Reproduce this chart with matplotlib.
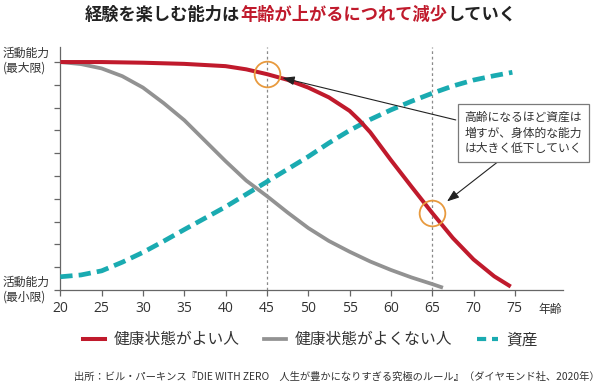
import matplotlib
matplotlib.use("Agg")
import matplotlib.pyplot as plt
import matplotlib.transforms as mtransforms
from matplotlib.lines import Line2D

plt.rcParams['font.family'] = ['Noto Sans CJK JP', 'DejaVu Sans']

# data (age -> activity level, 0 = min, 10 = max)
age_good = [20, 25, 30, 35, 40, 42.5, 45, 47.5, 50, 52.5, 55, 56.2, 57.5, 60, 62.5, 65, 67.5, 70, 72.5, 74.5]
good = [10.0, 10.0, 9.97, 9.92, 9.82, 9.68, 9.47, 9.22, 8.88, 8.45, 7.86, 7.44, 6.92, 5.7, 4.53, 3.38, 2.28, 1.34, 0.6, 0.15]

age_poor = [20, 22.5, 25, 27.5, 30, 32.5, 35, 37.5, 40, 42.5, 45, 47.5, 50, 52.5, 55, 57.5, 60, 62.5, 65, 66.3]
poor = [10.0, 9.91, 9.72, 9.38, 8.88, 8.2, 7.45, 6.55, 5.65, 4.8, 4.12, 3.4, 2.72, 2.15, 1.68, 1.25, 0.88, 0.55, 0.26, 0.1]

age_asset = [20, 22.5, 25, 27.5, 30, 32.5, 35, 37.5, 40, 42.5, 45, 47.5, 50, 52.5, 55, 57.5, 60, 62.5, 65, 67.5, 70, 72.5, 74.7]
asset = [0.58, 0.66, 0.84, 1.22, 1.65, 2.14, 2.65, 3.15, 3.65, 4.2, 4.75, 5.3, 5.85, 6.45, 7.0, 7.48, 7.9, 8.28, 8.63, 8.95, 9.21, 9.4, 9.55]

x_ticks = [20, 25, 30, 35, 40, 45, 50, 55, 60, 65, 70, 75]
marked_ages = [45, 65]

series_names = ['健康状態がよい人', '健康状態がよくない人', '資産']
title_parts = ['経験を楽しむ能力は', '年齢が上がるにつれて減少', 'していく']
note_text = '高齢になるほど資産は\n増すが、身体的な能力\nは大きく低下していく'
source_text = '出所：ビル・パーキンス『DIE WITH ZERO　人生が豊かになりすぎる究極のルール』（ダイヤモンド社、2020年）'

RED = '#C01A2C'
GRAY = '#929292'
TEAL = '#1AABB1'
ORANGE = '#E89A3E'
TXT = '#333333'

fig = plt.figure(figsize=(6, 3.84), dpi=100)
ax = fig.add_axes([0.1005, 0.2448, 0.8375, 0.6328])

ax.plot(age_good, good, color=RED, lw=2.9, solid_capstyle='butt', solid_joinstyle='round', zorder=4)
ax.plot(age_poor, poor, color=GRAY, lw=2.7, solid_capstyle='butt', solid_joinstyle='round', zorder=3)
ax.plot(age_asset, asset, color=TEAL, lw=3.4, dashes=(2.6, 1.3), dash_capstyle='butt',
        dash_joinstyle='round', zorder=3)

for a in marked_ages:
    ax.axvline(a, color='#8a8a8a', lw=0.9, ls=(0, (2.2, 2.2)), zorder=1)

# orange circles where the red line crosses the marked ages
circ_y = [good[age_good.index(a)] for a in marked_ages]
ax.plot(marked_ages, circ_y, ls='none', marker='o', ms=18.5, mfc='none',
        mec=ORANGE, mew=1.3, zorder=5)

ax.set_xlim(20, 80.8)
ax.set_ylim(0, 10.66)
ax.set_xticks(x_ticks)
ax.set_yticks(range(0, 11))
ax.set_yticklabels([])
ax.tick_params(axis='both', direction='out', length=4, width=0.9, color='#666666')
ax.tick_params(axis='x', labelsize=10, labelcolor=TXT, pad=4)
for lab in ax.get_xticklabels():
    lab.set_family(['Open Sans', 'Noto Sans CJK JP'])
for s in ['top', 'right']:
    ax.spines[s].set_visible(False)
for s in ['left', 'bottom']:
    ax.spines[s].set_color('#666666')
    ax.spines[s].set_linewidth(0.9)

ax.text(77.8, -0.85, '年齢', fontsize=8.5, color=TXT, ha='left', va='center', clip_on=False)

# y-end labels, placed in figure x / data y
blend = mtransforms.blended_transform_factory(fig.transFigure, ax.transData)
ax.text(0.005, 10.05, '活動能力\n(最大限)', transform=blend, clip_on=False,
        fontsize=8.5, color=TXT, ha='left', va='center', linespacing=1.15)
ax.text(0.005, 0.0, '活動能力\n(最小限)', transform=blend, clip_on=False,
        fontsize=8.5, color=TXT, ha='left', va='center', linespacing=1.15)

# annotation box + arrows
box_x, box_y = 76.03, 6.89
ax.text(box_x, box_y, note_text, fontsize=8.5, color=TXT, ha='center', va='center',
        linespacing=1.3, clip_on=False, zorder=6,
        bbox=dict(boxstyle='square,pad=0.55', fc='white', ec='#7a7a7a', lw=0.9))
arrow_starts = [(67.85, 7.46), (72.96, 5.63)]
shrinks = [11.5, 13.5]
for (sx, sy), a, cy, sh in zip(arrow_starts, marked_ages, circ_y, shrinks):
    ax.annotate('', xy=(a, cy), xytext=(sx, sy), zorder=5, annotation_clip=False,
                arrowprops=dict(arrowstyle='-|>,head_length=0.6,head_width=0.22',
                                mutation_scale=12, color='#222222', lw=0.8,
                                shrinkA=0, shrinkB=sh))

# legend
handles = [Line2D([], [], color=RED, lw=2.9),
           Line2D([], [], color=GRAY, lw=2.7),
           Line2D([], [], color=TEAL, lw=3.0, dashes=(2.2, 1.4))]
fig.legend(handles, series_names, loc='center', bbox_to_anchor=(0.518, 0.115), ncol=3,
           frameon=False, fontsize=11.3, handlelength=1.35, handletextpad=0.55,
           columnspacing=1.6, labelcolor=TXT)

# title with red middle part
renderer = fig.canvas.get_renderer()
colors = ['#222222', RED, '#222222']
title_texts = [fig.text(0, 0.962, s, color=c, fontsize=12.4, fontweight='bold', va='center')
               for s, c in zip(title_parts, colors)]
widths = [t.get_window_extent(renderer).width for t in title_texts]
fig_w = fig.get_figwidth() * fig.dpi
x = 0.501 - sum(widths) / 2 / fig_w
for t, w in zip(title_texts, widths):
    t.set_x(x)
    x += w / fig_w

fig.text(0.5615, 0.018, source_text, fontsize=7.4, color=TXT, ha='center', va='center')

fig.savefig('out.png', dpi=100)
